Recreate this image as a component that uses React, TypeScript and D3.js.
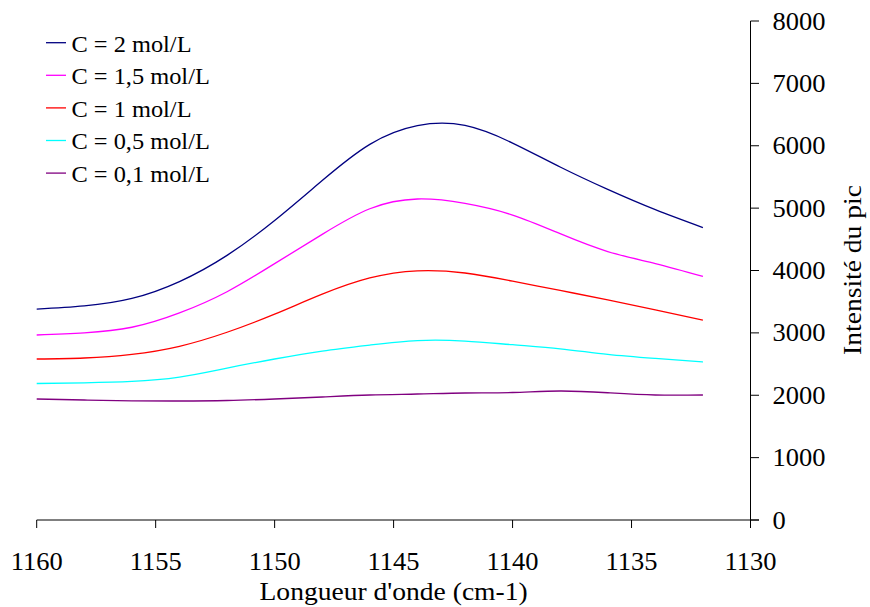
import React from "react";
import * as d3 from "d3";

const wavenumbers = [1160,1158,1156,1154,1152,1150,1148,1146,1144,1142,1140,1138,1136,1134,1132];
const c2 = [3382,3432,3552,3822,4242,4802,5442,6022,6322,6325,6043,5659,5300,4975,4688];
const c15 = [2966,3000,3090,3320,3660,4110,4580,4990,5146,5075,4889,4590,4304,4112,3905];
const c1 = [2581,2597,2655,2785,3010,3300,3620,3880,3995,3960,3830,3680,3530,3370,3206];
const c05 = [2188,2200,2222,2292,2436,2581,2709,2805,2877,2869,2810,2745,2655,2590,2533];
const c01 = [1940,1924,1910,1908,1916,1940,1972,2004,2020,2036,2044,2068,2040,2004,2004];

const seriesNames = ["C = 2 mol/L", "C = 1,5 mol/L", "C = 1 mol/L", "C = 0,5 mol/L", "C = 0,1 mol/L"];
const seriesValues = [c2, c15, c1, c05, c01];
const seriesColors = ["#000080", "#FF00FF", "#FF0000", "#00FFFF", "#800080"];

const xTicks = [1160, 1155, 1150, 1145, 1140, 1135, 1130];
const yTicks = [0, 1000, 2000, 3000, 4000, 5000, 6000, 7000, 8000];
const xTitle = "Longueur d'onde (cm-1)";
const yTitle = "Intensité du pic";

const FONT = "'Liberation Serif', 'Times New Roman', serif";

function SText({ x, y, size, anchor = "start", sx = 1.06, rotate = 0, children }: any) {
  return (
    <text
      transform={`translate(${x},${y}) rotate(${rotate}) scale(${sx},1)`}
      fontFamily={FONT}
      fontSize={size}
      textAnchor={anchor}
      fill="#000"
    >
      {children}
    </text>
  );
}

export default function App() {
  const W = 870, H = 607;
  const x = d3.scaleLinear().domain([1160, 1130]).range([36.7, 750.5]);
  const y = d3.scaleLinear().domain([0, 8000]).range([520, 21]);
  const line = (vals: number[]) =>
    d3.line<number>()
      .x((_, i) => x(wavenumbers[i]))
      .y((d) => y(d))
      .curve(d3.curveNatural)(vals) as string;

  const axisX = x(1130);
  return (
    <svg width={W} height={H} style={{ position: "absolute", left: 0, top: 0, background: "#fff" }}>
      <rect width={W} height={H} fill="#fff" />
      <line x1={x(1160)} x2={axisX + 8.5} y1={y(0)} y2={y(0)} stroke="#000" strokeWidth={1} />
      {xTicks.map((t) => (
        <g key={t}>
          <line x1={x(t)} x2={x(t)} y1={y(0)} y2={y(0) + 8} stroke="#000" strokeWidth={1} />
          <SText x={x(t)} y={570} size={25} anchor="middle">{t}</SText>
        </g>
      ))}
      <line x1={axisX} x2={axisX} y1={y(8000)} y2={y(0) + 8} stroke="#000" strokeWidth={1} />
      {yTicks.map((t) => (
        <g key={t}>
          <line x1={axisX} x2={axisX + 8.5} y1={y(t)} y2={y(t)} stroke="#000" strokeWidth={1} />
          <SText x={772.5} y={y(t) + 8.5} size={25}>{t}</SText>
        </g>
      ))}
      <SText x={(x(1160) + x(1130)) / 2} y={600} size={26} anchor="middle">{xTitle}</SText>
      <SText x={861} y={270} size={26} anchor="middle" rotate={-90}>{yTitle}</SText>
      {seriesValues.map((vals, i) => (
        <path key={i} d={line(vals)} fill="none" stroke={seriesColors[i]} strokeWidth={1.3} />
      ))}
      {seriesNames.map((n, i) => (
        <g key={n}>
          <line x1={46} x2={66} y1={42.7 + i * 32.6} y2={42.7 + i * 32.6} stroke={seriesColors[i]} strokeWidth={1.3} />
          <SText x={71.5} y={51.5 + i * 32.6} size={23}>{n}</SText>
        </g>
      ))}
    </svg>
  );
}
